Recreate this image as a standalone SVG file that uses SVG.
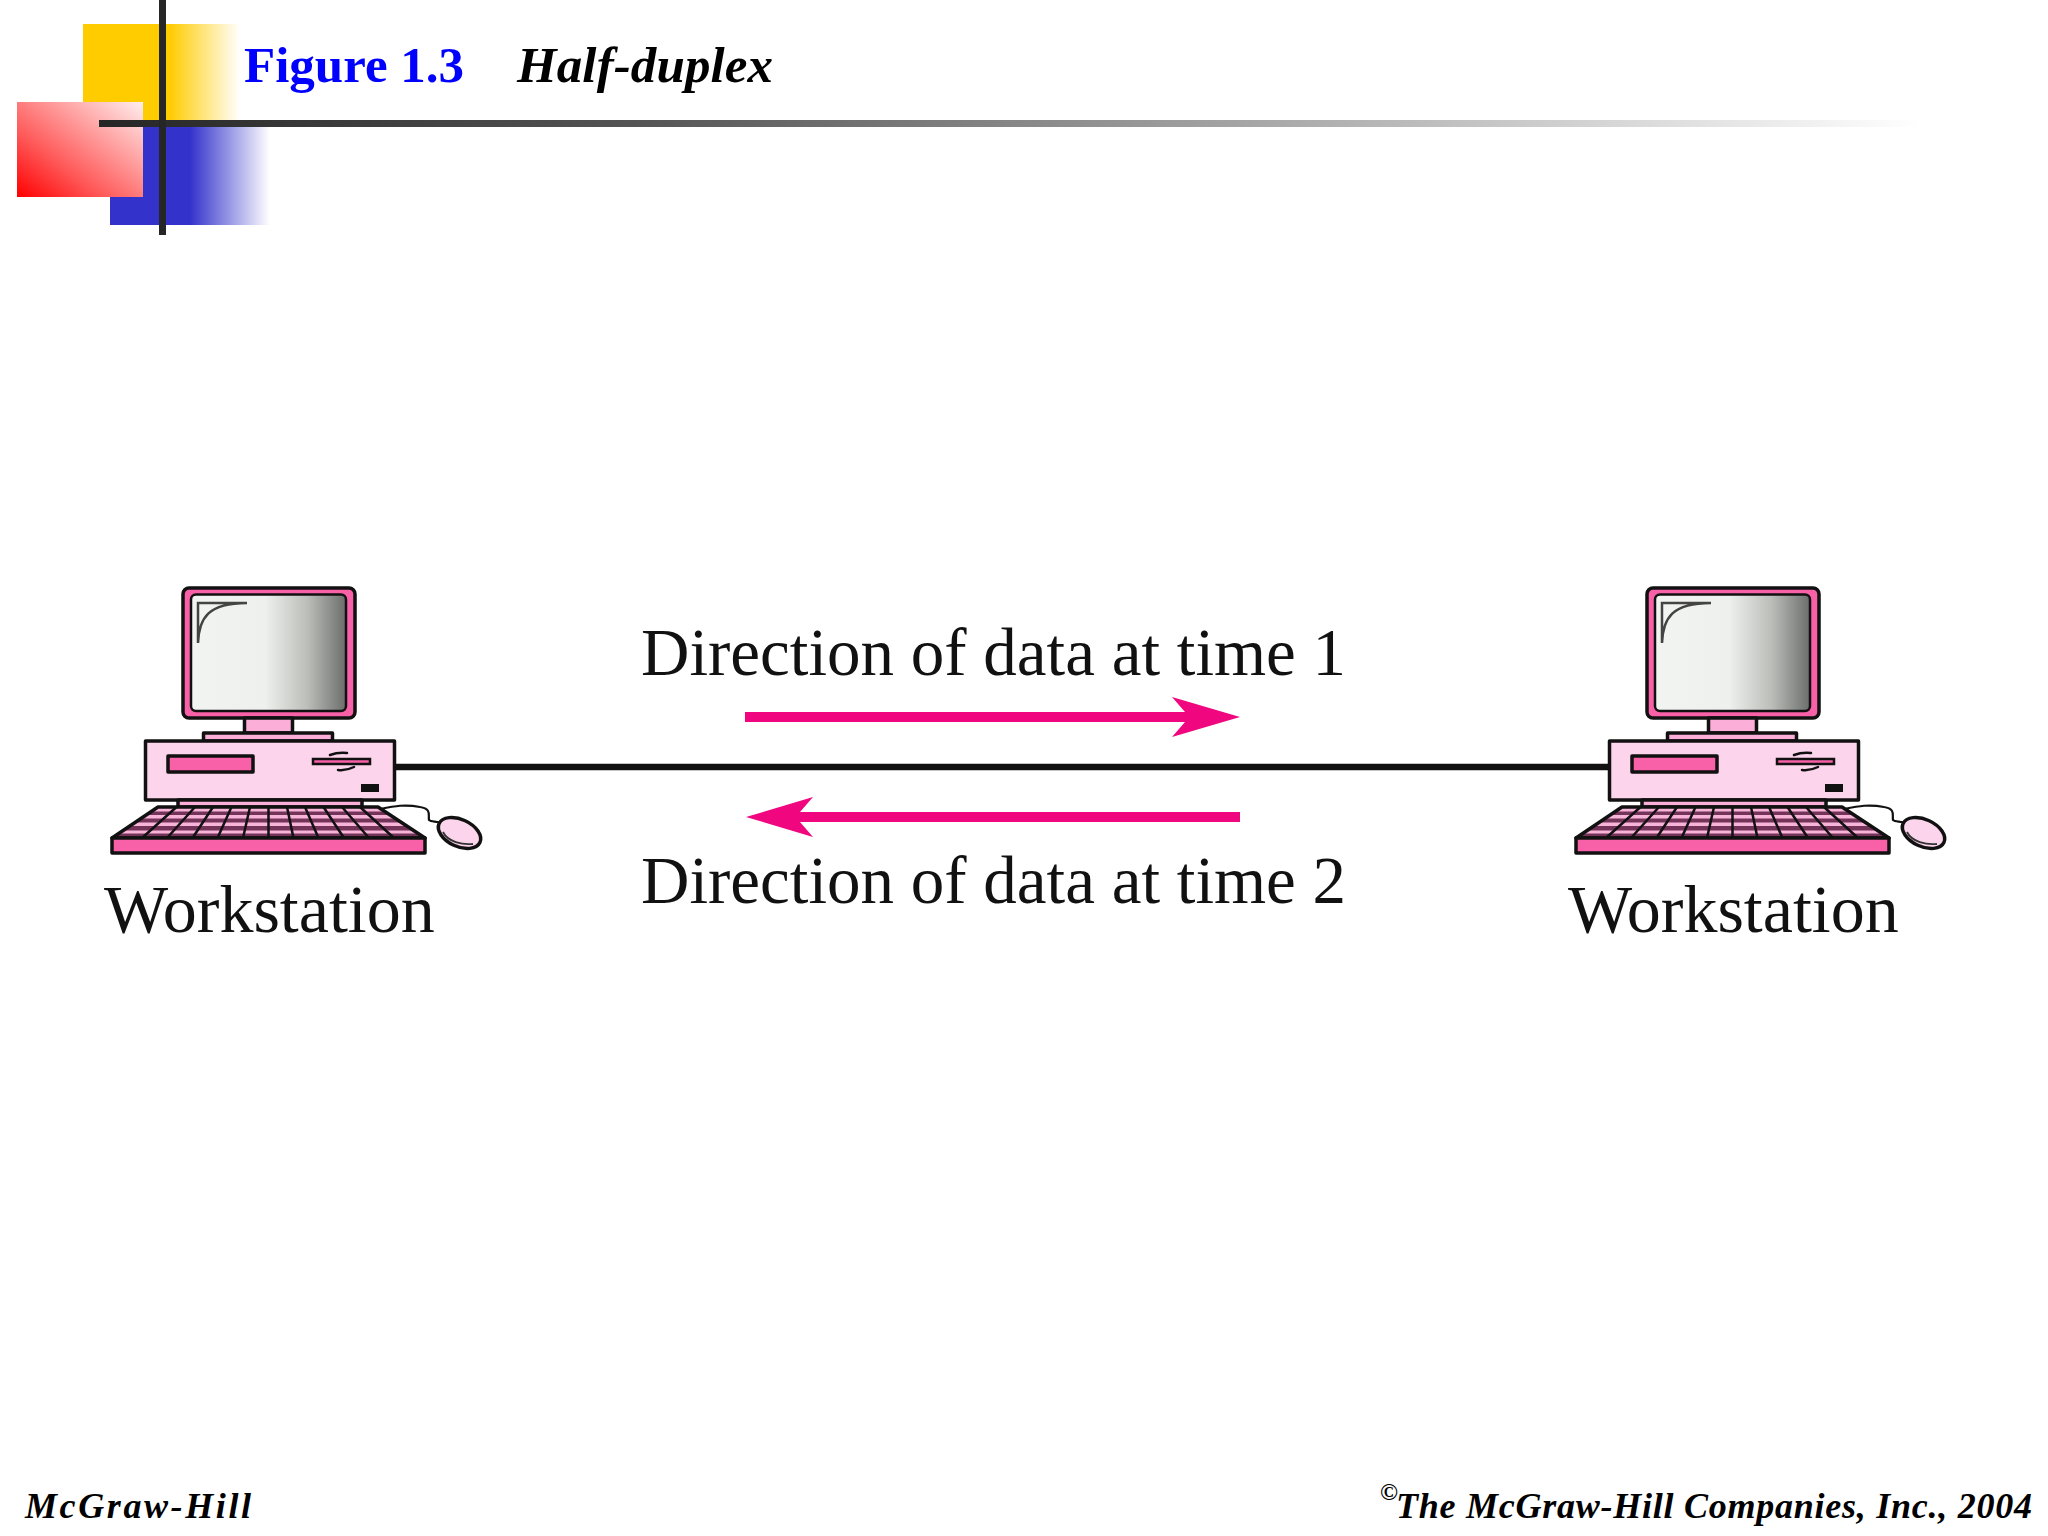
<svg xmlns="http://www.w3.org/2000/svg" width="2048" height="1536" viewBox="0 0 2048 1536">
<style>
.k{stroke:#111;stroke-width:3.500;stroke-linejoin:round}
.hot{fill:#f860a8}
.lite{fill:#fcd4ec}
.mid{fill:#fbafd8}
.thin{fill:none;stroke:#111;stroke-width:2.500;stroke-linecap:round}
.lab{font-family:"Liberation Serif","Times New Roman",serif;font-size:67px;fill:#111}
.foot{font-family:"Liberation Serif","Times New Roman",serif;font-style:italic;font-weight:700;font-size:36px;fill:#000}
.title{font-family:"Liberation Serif","Times New Roman",serif;font-weight:700;font-size:51px}
.cable{stroke:#111;stroke-width:6.500;fill:none}
.pink{fill:#f0067f;stroke:none}
</style>
<defs>
<linearGradient id="gy"><stop offset="0" stop-color="#ffcc00"/><stop offset="0.55" stop-color="#ffcc00"/><stop offset="1" stop-color="#ffcc00" stop-opacity="0"/></linearGradient>
<linearGradient id="gb"><stop offset="0" stop-color="#3333cc"/><stop offset="0.5" stop-color="#3333cc"/><stop offset="1" stop-color="#3333cc" stop-opacity="0"/></linearGradient>
<linearGradient id="gr" x1="0" y1="1" x2="1" y2="0"><stop offset="0" stop-color="#ff0000"/><stop offset="0.35" stop-color="#ff5a5a"/><stop offset="1" stop-color="#ffeeee"/></linearGradient>
<linearGradient id="gh"><stop offset="0" stop-color="#262626"/><stop offset="0.3" stop-color="#555"/><stop offset="1" stop-color="#fff"/></linearGradient>
<linearGradient id="gs"><stop offset="0" stop-color="#f2f4f1"/><stop offset="0.48" stop-color="#eef0ed"/><stop offset="0.75" stop-color="#bcbeba"/><stop offset="1" stop-color="#6c6e6c"/></linearGradient>
<clipPath id="kbclip"><polygon points="158,807 378,807 425,838 112,838"/></clipPath>
<g id="workstation">
<rect class="k hot" x="183" y="588" width="172" height="130" rx="6"/>
<rect x="191" y="594.500" width="155" height="116.500" rx="5" fill="url(#gs)" stroke="#111" stroke-width="2.500"/>
<path d="M198,643V603H247M198,643C199,618 208,603 247,603" fill="none" stroke="#444" stroke-width="2.500"/>
<rect class="k mid" x="244.500" y="718" width="48" height="15"/>
<rect class="k mid" x="203.500" y="733" width="129" height="8"/>
<rect class="k lite" x="145.500" y="741" width="249" height="59"/>
<rect class="k hot" x="168" y="756" width="85" height="16"/>
<rect class="hot" x="313" y="759" width="57" height="5" stroke="#111" stroke-width="2.500"/>
<path class="thin" d="M330,755Q338,752 347,753M338,770Q346,771 354,767"/>
<rect x="361" y="784" width="18" height="8" fill="#111"/>
<rect class="k mid" x="178" y="800" width="184" height="7"/>
<polygon points="158,807 378,807 425,838 112,838" fill="#f8b4d8"/>
<g clip-path="url(#kbclip)" fill="#74345a">
<rect x="100" y="811.500" width="340" height="3.500"/>
<rect x="100" y="818.500" width="340" height="4"/>
<rect x="100" y="826" width="340" height="4.500"/>
<rect x="100" y="833.500" width="340" height="4.500"/>
</g>
<path d="M176.500,807L142,838M195,807L167,838M213,807L192.500,838M231.500,807L217.500,838M250,807L243,838M268.500,807V838M287,807L293.500,838M305,807L318.500,838M323.500,807L344,838M342,807L369,838M360,807L394,838" stroke="#111" stroke-width="2.500" fill="none"/>
<polygon points="158,807 378,807 425,838 112,838" fill="none" class="k"/>
<rect class="k hot" x="112" y="838" width="313" height="15"/>
<path d="M380,809C395,806 405,804 420,807C432,809 428,815 429,820C431,822 436,821 442,823" fill="none" stroke="#111" stroke-width="2.200"/>
<ellipse cx="459.500" cy="833" rx="22.500" ry="13.500" transform="rotate(25 459.500 833)" class="k lite"/>
<path d="M443,832C448,842 462,845 473,844" fill="none" stroke="#333" stroke-width="1.800"/>
</g>
</defs>
<rect width="2048" height="1536" fill="#fff"/>
<g id="ornament">
<rect x="83" y="24" width="157" height="96" fill="url(#gy)"/>
<rect x="110" y="120" width="160" height="105" fill="url(#gb)"/>
<rect x="17" y="102" width="126" height="95" fill="url(#gr)"/>
<rect x="99" y="120" width="1821" height="7" fill="url(#gh)"/>
<rect x="159" y="0" width="7" height="235" fill="#262626"/>
</g>
<g id="title">
<text class="title" x="244" y="82" fill="#0000ff">Figure 1.3</text>
<text class="title" x="517" y="82" fill="#000" font-style="italic" textLength="256">Half-duplex</text>
</g>
<g id="connectors">
<line id="cable" class="cable" x1="395" y1="767" x2="1612" y2="767"/>
<path id="arrow-time-1" class="pink" d="M745,712H1185L1172,697L1240,717L1172,737L1185,722H745Z"/>
<path id="arrow-time-2" class="pink" d="M1240,812H800L813,797L746,817L813,837L800,822H1240Z"/>
</g>
<g id="label-time-1"><text class="lab" x="641" y="675">Direction of data at time 1</text></g>
<g id="label-time-2"><text class="lab" x="641" y="903">Direction of data at time 2</text></g>
<g id="workstation-left">
<use href="#workstation"/>
<text class="lab" x="104" y="932" style="font-size:68px">Workstation</text>
</g>
<g id="workstation-right">
<use href="#workstation" x="1464"/>
<text class="lab" x="1568" y="932" style="font-size:68px">Workstation</text>
</g>
<g id="footer">
<text class="foot" x="25" y="1518" textLength="226">McGraw-Hill</text>
<text class="foot" x="1380" y="1500" style="font-size:24px">©</text>
<text class="foot" x="1396" y="1518" textLength="636">The McGraw-Hill Companies, Inc., 2004</text>
</g>
</svg>
